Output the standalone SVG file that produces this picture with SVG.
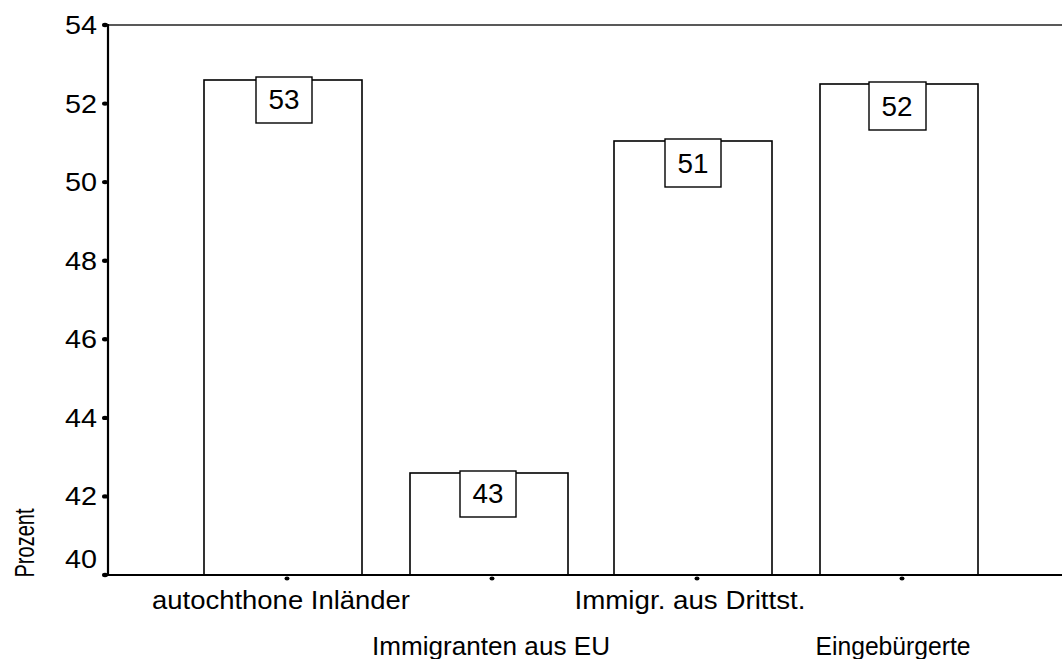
<svg xmlns="http://www.w3.org/2000/svg" width="1062" height="659" viewBox="0 0 1062 659">
<style>
text{font-family:"Liberation Sans",Arial,sans-serif;fill:#000}
.yl{font-size:25px;text-anchor:end}
.cl{font-size:26px;text-anchor:middle}
.vl{font-size:27px;text-anchor:middle}
.bar{fill:#fff;stroke:#000;stroke-width:1.6}
.lbl{fill:#fff;stroke:#000;stroke-width:1.4}
.ax{stroke:#000;stroke-width:2.2;fill:none}
</style>
<rect width="1062" height="659" fill="#fff"/>
<g id="frame">
<line x1="108" y1="25" x2="1062" y2="25" stroke="#222" stroke-width="1.4"/>
</g>
<g id="bars">
<g id="bar-autochthone"><rect class="bar" x="204" y="80" width="158" height="495"/><rect class="lbl" x="256" y="77" width="56" height="46"/><text class="vl" x="284" y="109" textLength="31" lengthAdjust="spacingAndGlyphs">53</text></g>
<g id="bar-eu"><rect class="bar" x="410" y="473" width="158" height="102"/><rect class="lbl" x="460" y="471" width="56" height="46"/><text class="vl" x="488" y="503" textLength="31" lengthAdjust="spacingAndGlyphs">43</text></g>
<g id="bar-drittst"><rect class="bar" x="614" y="141" width="158" height="434"/><rect class="lbl" x="665" y="139" width="56" height="48"/><text class="vl" x="693" y="173" textLength="31" lengthAdjust="spacingAndGlyphs">51</text></g>
<g id="bar-eingebuergerte"><rect class="bar" x="820" y="84" width="158" height="491"/><rect class="lbl" x="869" y="82" width="57" height="48"/><text class="vl" x="897" y="116" textLength="31" lengthAdjust="spacingAndGlyphs">52</text></g>
</g>
<g id="axes">
<line class="ax" x1="108" y1="24" x2="108" y2="576"/>
<line class="ax" x1="103" y1="575" x2="1062" y2="575"/>
<g fill="#000">
<ellipse cx="105" cy="25" rx="3" ry="2.2"/>
<ellipse cx="105" cy="103.6" rx="3" ry="2.2"/>
<ellipse cx="105" cy="182.1" rx="3" ry="2.2"/>
<ellipse cx="105" cy="260.7" rx="3" ry="2.2"/>
<ellipse cx="105" cy="339.3" rx="3" ry="2.2"/>
<ellipse cx="105" cy="417.9" rx="3" ry="2.2"/>
<ellipse cx="105" cy="496.4" rx="3" ry="2.2"/>
<ellipse cx="105" cy="575" rx="3" ry="2.2"/>
<ellipse cx="287" cy="578.5" rx="2.5" ry="2"/>
<ellipse cx="492" cy="578.5" rx="2.5" ry="2"/>
<ellipse cx="697" cy="578.5" rx="2.5" ry="2"/>
<ellipse cx="902" cy="578.5" rx="2.5" ry="2"/>
</g>
<text class="yl" x="97" y="34" textLength="32" lengthAdjust="spacingAndGlyphs">54</text>
<text class="yl" x="97" y="112.5" textLength="32" lengthAdjust="spacingAndGlyphs">52</text>
<text class="yl" x="97" y="191" textLength="32" lengthAdjust="spacingAndGlyphs">50</text>
<text class="yl" x="97" y="269.5" textLength="32" lengthAdjust="spacingAndGlyphs">48</text>
<text class="yl" x="97" y="348" textLength="32" lengthAdjust="spacingAndGlyphs">46</text>
<text class="yl" x="97" y="427" textLength="32" lengthAdjust="spacingAndGlyphs">44</text>
<text class="yl" x="97" y="505" textLength="32" lengthAdjust="spacingAndGlyphs">42</text>
<text class="yl" x="97" y="568" textLength="32" lengthAdjust="spacingAndGlyphs">40</text>
</g>
<g id="labels">
<text class="cl" x="281" y="609" textLength="258" lengthAdjust="spacingAndGlyphs">autochthone Inländer</text>
<text class="cl" x="491" y="655" textLength="238" lengthAdjust="spacingAndGlyphs">Immigranten aus EU</text>
<text class="cl" x="690" y="609" textLength="231" lengthAdjust="spacingAndGlyphs">Immigr. aus Drittst.</text>
<text class="cl" x="893" y="655" textLength="155" lengthAdjust="spacingAndGlyphs">Eingebürgerte</text>
<text font-size="27" text-anchor="middle" textLength="69" lengthAdjust="spacingAndGlyphs" transform="translate(34,543) rotate(-90)">Prozent</text>
</g>
</svg>
